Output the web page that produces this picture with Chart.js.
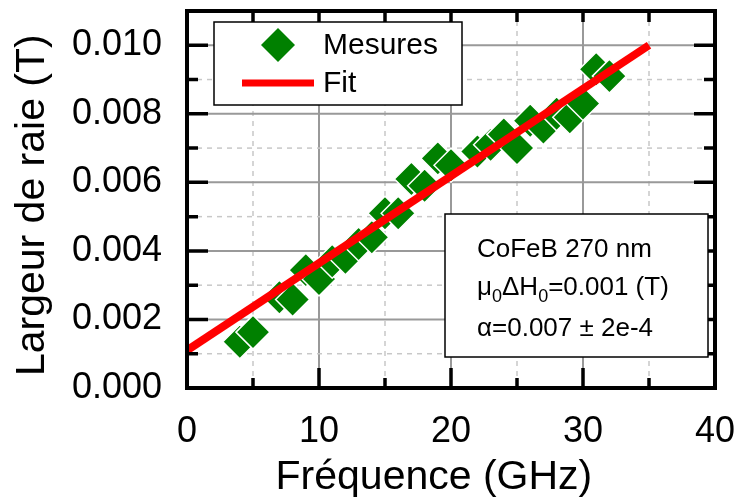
<!DOCTYPE html>
<html>
<head>
<meta charset="utf-8">
<script src="https://cdn.jsdelivr.net/npm/chart.js@4.4.0/dist/chart.umd.min.js"></script>
<style>
  html, body { margin: 0; padding: 0; background: #fff; }
</style>
</head>
<body>
<canvas id="chart" width="737" height="498"></canvas>
<script>
// measured points (GHz, T)
var freq = [4, 5, 7, 8, 9, 10, 11, 12, 13, 14, 15, 16, 17, 18, 19, 20, 22, 23, 24, 25, 26, 27, 28, 29, 30, 31, 32];
var largeur = [0.00135, 0.00163, 0.00265, 0.00258, 0.00344, 0.00318, 0.0037, 0.0038, 0.0042, 0.0044, 0.0051, 0.0051,
  0.0061, 0.0059, 0.0067, 0.0065, 0.0069, 0.0071, 0.0074, 0.0070, 0.0078, 0.0076, 0.0080, 0.0079, 0.0083, 0.0093, 0.0091];

// linear fit end points
var fitFreq = [0, 35];
var fitLargeur = [0.0011, 0.0100];

var legendLabels = ["Mesures", "Fit"];
var noteLines = ["CoFeB 270 nm", "=0.001 (T)", "\u03b1=0.007 \u00b1 2e-4"];

var FONT = "'Liberation Sans', Arial, sans-serif";

var mesures = freq.map(function(f, i){ return {x: f, y: largeur[i]}; });
var fit = fitFreq.map(function(f, i){ return {x: f, y: fitLargeur[i]}; });

//grid, frame, inward ticks, legend and text box
var decor = {
  id: "decor",
  beforeDatasetsDraw: function(chart) {
    var ctx = chart.ctx, a = chart.chartArea;
    var xs = chart.scales.x, ys = chart.scales.y;
    ctx.save();
    xs.ticks.forEach(function(t){
      if (t.value <= xs.min || t.value >= xs.max) return;
      var px = xs.getPixelForValue(t.value);
      var major = t.value % 10 === 0;
      ctx.beginPath();
      ctx.strokeStyle = major ? "#999" : "#c8c8c8";
      ctx.lineWidth = major ? 2 : 1.5;
      ctx.setLineDash(major ? [] : [5, 5]);
      ctx.moveTo(px, a.top); ctx.lineTo(px, a.bottom);
      ctx.stroke();
    });
    ys.ticks.forEach(function(t){
      if (t.value <= ys.min || t.value >= ys.max - 1e-9) return;
      var py = ys.getPixelForValue(t.value);
      var major = Math.round(t.value * 1000) % 2 === 0;
      ctx.beginPath();
      ctx.strokeStyle = major ? "#999" : "#c8c8c8";
      ctx.lineWidth = major ? 2 : 1.5;
      ctx.setLineDash(major ? [] : [5, 5]);
      ctx.moveTo(a.left, py); ctx.lineTo(a.right, py);
      ctx.stroke();
    });
    ctx.restore();
  },
  afterDraw: function(chart) {
    var ctx = chart.ctx, a = chart.chartArea;
    var xs = chart.scales.x, ys = chart.scales.y;
    ctx.save();
    ctx.strokeStyle = "#000";
    ctx.lineWidth = 3.5;
    ctx.setLineDash([]);
    ctx.beginPath();
    xs.ticks.forEach(function(t){
      var px = xs.getPixelForValue(t.value);
      var len = t.value % 10 === 0 ? 20 : 10;
      ctx.moveTo(px, a.bottom); ctx.lineTo(px, a.bottom - len);
      ctx.moveTo(px, a.top); ctx.lineTo(px, a.top + 11);
    });
    ys.ticks.forEach(function(t){
      var py = ys.getPixelForValue(t.value);
      var len = Math.round(t.value * 1000) % 2 === 0 ? 21 : 11;
      ctx.moveTo(a.left, py); ctx.lineTo(a.left + len, py);
      ctx.moveTo(a.right, py); ctx.lineTo(a.right - len, py);
    });
    ctx.stroke();
    ctx.lineWidth = 4;
    ctx.strokeRect(a.left, a.top, a.right - a.left, a.bottom - a.top);

    // legend box
    var lx = a.left + 27, ly = a.top + 11;
    ctx.fillStyle = "#fff";
    ctx.fillRect(lx, ly, 248, 83);
    ctx.lineWidth = 1.5;
    ctx.strokeRect(lx, ly, 248, 83);
    ctx.fillStyle = "#008000";
    ctx.beginPath();
    ctx.moveTo(lx + 64 - 17, ly + 23);
    ctx.lineTo(lx + 64, ly + 6);
    ctx.lineTo(lx + 64 + 17, ly + 23);
    ctx.lineTo(lx + 64, ly + 40);
    ctx.closePath();
    ctx.fill();
    ctx.strokeStyle = "#ff0000";
    ctx.lineWidth = 7;
    ctx.beginPath();
    ctx.moveTo(lx + 28, ly + 61); ctx.lineTo(lx + 100, ly + 61);
    ctx.stroke();
    ctx.fillStyle = "#000";
    ctx.font = "30px " + FONT;
    ctx.textBaseline = "middle";
    ctx.fillText(legendLabels[0], lx + 109, ly + 24);
    ctx.fillText(legendLabels[1], lx + 109, ly + 62);

    // parameter box
    var bx = 445, by = 214, bw = 263, bh = 143;
    ctx.fillStyle = "#fff";
    ctx.fillRect(bx, by, bw, bh);
    ctx.strokeStyle = "#000";
    ctx.lineWidth = 1.5;
    ctx.strokeRect(bx, by, bw, bh);
    ctx.fillStyle = "#000";
    ctx.textBaseline = "alphabetic";
    var tx = bx + 32;
    ctx.font = "26px " + FONT;
    ctx.fillText(noteLines[0], tx, by + 43);
    var y2 = by + 81, x2 = tx;
    function piece(txt, size, dy) {
      ctx.font = size + "px " + FONT;
      ctx.fillText(txt, x2, y2 + dy);
      x2 += ctx.measureText(txt).width;
    }
    piece("\u03bc", 26, 0);
    piece("0", 18, 7);
    piece("\u0394H", 26, 0);
    piece("0", 18, 7);
    piece(noteLines[1], 26, 0);
    ctx.font = "26px " + FONT;
    ctx.fillText(noteLines[2], tx, by + 122);
    ctx.restore();
  }
};

var ctx = document.getElementById("chart");
var chart = new Chart(ctx, {
  type: "scatter",
  data: {
    datasets: [
      {
        label: legendLabels[1],
        type: "line",
        data: fit,
        borderColor: "#ff0000",
        borderWidth: 8,
        pointRadius: 0,
        fill: false,
        tension: 0,
        order: 1
      },
      {
        label: legendLabels[0],
        data: mesures,
        pointStyle: "rectRot",
        pointRadius: 17,
        backgroundColor: "#008000",
        borderColor: "#fff",
        borderWidth: 1.5,
        order: 2
      }
    ]
  },
  options: {
    responsive: false,
    animation: false,
    layout: { autoPadding: false, padding: { left: 0, top: 11, right: 22, bottom: 0 } },
    plugins: { legend: { display: false }, tooltip: { enabled: false } },
    scales: {
      x: {
        type: "linear", min: 0, max: 40,
        grid: { display: false, drawTicks: false },
        border: { display: false },
        ticks: {
          stepSize: 5, autoSkip: false, maxRotation: 0, padding: 22,
          color: "#000", font: { family: FONT, size: 36 },
          callback: function(v){ return v % 10 === 0 ? String(v) : ""; }
        },
        title: {
          display: true, text: "Fréquence (GHz)\u00a0\u00a0\u00a0", color: "#000",
          font: { family: FONT, size: 41, lineHeight: 1 }, padding: { top: 0, bottom: 0 }
        },
        afterFit: function(s){
          s.height = 110;
          s.paddingLeft = 0; s.paddingRight = 0;
        }
      },
      y: {
        type: "linear", min: 0, max: 0.011,
        grid: { display: false, drawTicks: false },
        border: { display: false },
        ticks: {
          stepSize: 0.001, autoSkip: false, padding: 25,
          color: "#000", font: { family: FONT, size: 36 },
          callback: function(v){ return Math.round(v * 1000) % 2 === 0 ? v.toFixed(3) : ""; }
        },
        title: {
          display: true, text: "Largeur de raie (T)\u00a0", color: "#000",
          font: { family: FONT, size: 41 }, padding: { top: 8, bottom: 0 }
        },
        afterFit: function(s){
          s.width = 187;
          s.paddingTop = 0; s.paddingBottom = 0;
        }
      }
    }
  },
  plugins: [decor]
});
</script>
</body>
</html>
